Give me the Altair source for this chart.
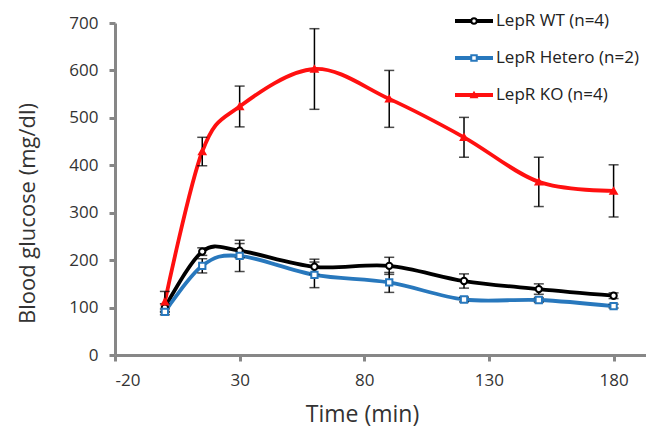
import altair as alt
import pandas as pd

times = [0, 15, 30, 60, 90, 120, 150, 180]
series = ["LepR WT (n=4)", "LepR Hetero (n=2)", "LepR KO (n=4)"]
wt_mean = [100, 218, 220, 186, 188, 156, 139, 125]
wt_err = [8, 8, 15, 16, 18, 15, 11, 6]
het_mean = [91, 188, 209, 169, 153, 117, 116, 103]
het_err = [6, 15, 33, 27, 21, 5, 5, 4]
ko_mean = [112, 429, 524, 603, 540, 459, 365, 346]
ko_err = [22, 30, 43, 85, 60, 42, 52, 55]

colors = ["#000000", "#2878BD", "#FF1010"]
fills = ["#FFFFFF", "#FFFFFF", "#FF1010"]
shapes = ["circle", "square", "triangle-up"]

rows = []
for name, means, errs in [(series[0], wt_mean, wt_err), (series[1], het_mean, het_err), (series[2], ko_mean, ko_err)]:
    for t, m, e in zip(times, means, errs):
        rows.append({"time": t, "series": name, "mean": m, "lo": m - e, "hi": m + e})
df = pd.DataFrame(rows)
leg = pd.DataFrame({"series": series, "row": [0, 1, 2]})

FONT = "Open Sans"
color_scale = alt.Scale(domain=series, range=colors)
fill_scale = alt.Scale(domain=series, range=fills)
shape_scale = alt.Scale(domain=series, range=shapes)

x = alt.X("time:Q", scale=alt.Scale(domain=[-20, 193], nice=False, zero=False),
          axis=alt.Axis(values=[-20, 30, 80, 130, 180], title="Time (min)", grid=False,
                        titleX=247, titleY=48, titleFontSize=23, titleBaseline="top",
                        labelExpr="datum.value < 0 ? '-' + abs(datum.value) : datum.label"))
y = alt.Y("mean:Q", scale=alt.Scale(domain=[0, 700], nice=False),
          axis=alt.Axis(values=[0, 100, 200, 300, 400, 500, 600, 700], title="Blood glucose (mg/dl)",
                        grid=False, titleX=-76, titleY=190))

base = alt.Chart(df)
lines = base.mark_line(interpolate="cardinal", strokeWidth=3.8).encode(
    x=x, y=y, color=alt.Color("series:N", scale=color_scale, legend=None), detail="series:N")
rules = base.mark_rule(color="black", strokeWidth=1.5).encode(x="time:Q", y="lo:Q", y2="hi:Q")
cap_lo = base.mark_tick(color="black", orient="horizontal", size=10, thickness=1.5).encode(x="time:Q", y="lo:Q")
cap_hi = base.mark_tick(color="black", orient="horizontal", size=10, thickness=1.5).encode(x="time:Q", y="hi:Q")
pts = base.mark_point(filled=False, size=40, strokeWidth=2, opacity=1).encode(
    x="time:Q", y="mean:Q",
    stroke=alt.Stroke("series:N", scale=color_scale, legend=None),
    fill=alt.Fill("series:N", scale=fill_scale, legend=None),
    shape=alt.Shape("series:N", scale=shape_scale, legend=None))

ly = alt.Y("row:Q", scale=alt.Scale(domain=[0, 2], range=[-2, 72]), axis=None)
leg_base = alt.Chart(leg)
leg_line = leg_base.mark_rule(strokeWidth=3.8).encode(
    x=alt.value(340), x2=alt.value(378), y=ly,
    color=alt.Color("series:N", scale=color_scale, legend=None))
leg_pt = leg_base.mark_point(size=30, strokeWidth=2, opacity=1).encode(
    x=alt.value(359), y=ly,
    stroke=alt.Stroke("series:N", scale=color_scale, legend=None),
    fill=alt.Fill("series:N", scale=fill_scale, legend=None),
    shape=alt.Shape("series:N", scale=shape_scale, legend=None))
leg_txt = leg_base.mark_text(align="left", baseline="middle", font=FONT, fontSize=17, color="#222222").encode(
    x=alt.value(381), y=ly, text="series:N")
legend = alt.layer(leg_line, leg_pt, leg_txt)

main = alt.layer(lines, rules, cap_lo, cap_hi, pts)

chart = alt.layer(main, legend).resolve_scale(y="independent").properties(
    width=531, height=332,
    autosize=alt.AutoSizeParams(type="none"),
    padding={"left": 107, "top": 15, "right": 0, "bottom": 77},
).configure_view(stroke=None).configure_axis(
    domainColor="#878787", domainWidth=3, tickColor="#878787", tickWidth=3, tickSize=6,
    labelFont=FONT, labelFontSize=17, labelColor="#333333", labelPadding=11,
    titleFont=FONT, titleFontSize=22, titleFontWeight="normal", titleColor="#333333",
)

chart.save("out.html", embed_options={"renderer": "svg", "actions": False})
